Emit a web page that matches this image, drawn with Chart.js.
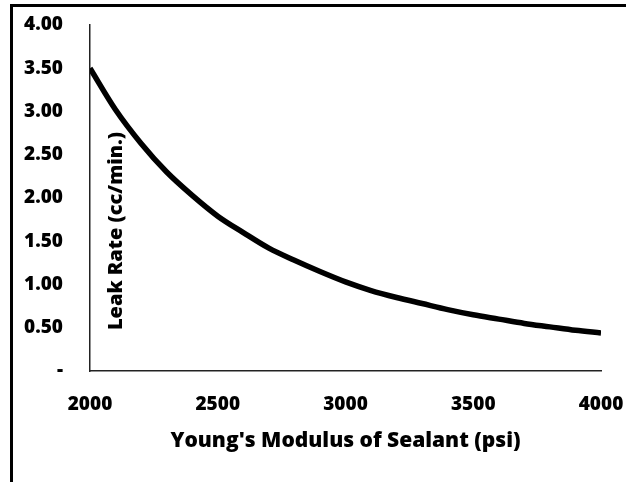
<!DOCTYPE html>
<html>
<head>
<meta charset="utf-8">
<title>Leak Rate vs Young's Modulus</title>
<script src="https://cdn.jsdelivr.net/npm/chart.js"></script>
<style>
  html, body { margin: 0; padding: 0; background: #fff; }
  #wrap { position: relative; width: 626px; height: 482px; }
  #frame {
    position: absolute; left: 10px; top: 4px; right: 0; bottom: 0;
    border-top: 3px solid #000; border-left: 3px solid #000;
    pointer-events: none;
  }
  canvas { position: absolute; left: 0; top: 0; }
</style>
</head>
<body>
<div id="wrap">
  <canvas id="grafico" width="626" height="482"></canvas>
  <div id="frame"></div>
</div>
<script>
// modulus (psi) and leak rate (cc/min.)
const modulus = [2000, 2100, 2200, 2300, 2400, 2500, 2600, 2700, 2800, 2900, 3000,
                 3100, 3200, 3300, 3400, 3500, 3600, 3700, 3800, 3900, 4000];
const leakRate = [3.50, 3.02, 2.63, 2.30, 2.03, 1.79, 1.60, 1.42, 1.28, 1.15, 1.03,
                  0.93, 0.85, 0.78, 0.71, 0.65, 0.60, 0.55, 0.51, 0.47, 0.44];
const xTicks = [2000, 2500, 3000, 3500, 4000];
const yTicks = [0, 0.5, 1, 1.5, 2, 2.5, 3, 3.5, 4];

const xTitle = "Young's Modulus of Sealant (psi)";
const yTitle = 'Leak Rate (cc/min.)';

const FONT = "'Open Sans', sans-serif";

// y title sits inside the plot area, rotated
const yTitlePlugin = {
  id: 'yTitleInside',
  afterDraw(chart) {
    const ctx = chart.ctx;
    const area = chart.chartArea;
    ctx.save();
    ctx.translate(area.left + 26, area.top + 206);
    ctx.rotate(-Math.PI / 2);
    ctx.font = '800 20px ' + FONT;
    ctx.fillStyle = '#000';
    ctx.textAlign = 'center';
    ctx.textBaseline = 'middle';
    ctx.fillText(yTitle, 0, 0);
    ctx.restore();
  }
};

new Chart(document.getElementById('grafico').getContext('2d'), {
  type: 'line',
  data: {
    datasets: [{
      label: yTitle,
      data: modulus.map((m, i) => ({ x: m, y: leakRate[i] })),
      borderColor: '#000',
      borderWidth: 5.5,
      pointRadius: 0,
      cubicInterpolationMode: 'monotone',
      fill: false
    }]
  },
  options: {
    responsive: false,
    animation: false,
    layout: { padding: { left: 0, right: 25, top: 25, bottom: 0 } },
    plugins: {
      legend: { display: false },
      tooltip: { enabled: false }
    },
    scales: {
      x: {
        type: 'linear',
        min: 2000,
        max: 4000,
        afterFit: s => { s.height = 111; s.paddingLeft = 0; s.paddingRight = 0; },
        afterBuildTicks: s => { s.ticks = xTicks.map(v => ({ value: v })); },
        grid: { display: false, drawTicks: false },
        border: { display: true, color: '#222', width: 1.5 },
        ticks: {
          color: '#000',
          padding: 22,
          font: { family: FONT, size: 19, weight: '800' },
          callback: v => String(v)
        },
        title: {
          display: true,
          text: xTitle,
          color: '#000',
          padding: { top: 0, bottom: 28 },
          font: { family: FONT, size: 21, weight: '800' }
        }
      },
      y: {
        min: 0,
        max: 4,
        afterFit: s => { s.width = 90; s.paddingTop = 0; s.paddingBottom = 0; },
        afterBuildTicks: s => { s.ticks = yTicks.map(v => ({ value: v })); },
        grid: { display: false, drawTicks: false },
        border: { display: true, color: '#222', width: 1.5 },
        ticks: {
          color: '#000',
          padding: 27,
          font: { family: FONT, size: 19, weight: '800' },
          callback: v => v === 0 ? '-' : v.toFixed(2)
        }
      }
    }
  },
  plugins: [yTitlePlugin]
});
</script>
</body>
</html>
